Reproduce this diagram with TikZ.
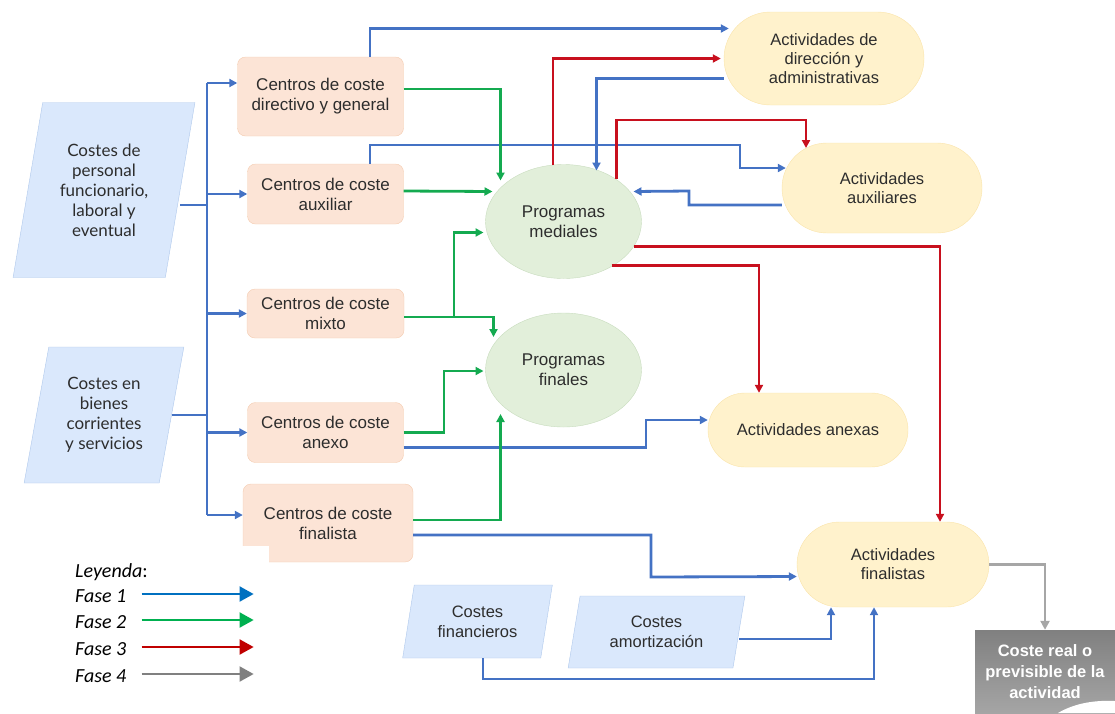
\documentclass[tikz,border=0pt]{standalone}
\usepackage{fontspec}
\setmainfont{Liberation Sans}
\newfontfamily\latofont{Lato}
\newfontfamily\legfont{Carlito}
\usetikzlibrary{arrows.meta, positioning, calc, shapes.geometric, shapes.misc}

\definecolor{txtgray}{RGB}{45,45,45}
\definecolor{peach}{RGB}{252,228,214}
\definecolor{peachline}{RGB}{244,204,176}
\definecolor{lgreen}{RGB}{226,239,218}
\definecolor{greenline}{RGB}{200,220,190}
\definecolor{lyellow}{RGB}{255,242,204}
\definecolor{yelline}{RGB}{250,228,170}
\definecolor{lblue}{RGB}{218,232,252}
\definecolor{blueline}{RGB}{175,200,235}
\definecolor{fblue}{RGB}{68,114,196}
\definecolor{fgreen}{RGB}{20,170,80}
\definecolor{fred}{RGB}{200,16,30}
\definecolor{fgray}{RGB}{166,166,166}
\definecolor{legblue}{RGB}{0,112,192}
\definecolor{leggreen}{RGB}{0,176,80}
\definecolor{legred}{RGB}{192,0,0}
\definecolor{leggray}{RGB}{128,128,128}
\definecolor{boxgraytop}{RGB}{128,128,128}
\definecolor{boxgraybot}{RGB}{165,165,165}

\begin{document}
\begin{tikzpicture}[
    x=1pt, y=-1pt,
    every node/.style={text=txtgray, align=center, inner sep=0pt}, % 统一文字
    centro/.style={draw=peachline, fill=peach, rounded corners=8pt, font=\fontsize{17}{20}\selectfont}, % 成本中心
    prog/.style={ellipse, draw=greenline, fill=lgreen, minimum width=156, minimum height=114, font=\fontsize{17}{20}\selectfont}, % 项目
    activ/.style={rounded rectangle, draw=yelline, fill=lyellow, font=\fontsize{16.5}{19}\selectfont}, % 活动
    coste/.style={trapezium, trapezium stretches=true, trapezium left angle=77, trapezium right angle=103, draw=blueline, fill=lblue}, % 成本(平行四边形)
    fase1/.style={fblue, line width=2.8pt, -{Triangle[length=8pt,width=8pt]}},
    fase2/.style={fgreen, line width=2.8pt, -{Triangle[length=8pt,width=8pt]}},
    fase3/.style={fred, line width=2.8pt, -{Triangle[length=8pt,width=8pt]}},
    fase4/.style={fgray, line width=2.8pt, -{Triangle[length=9pt,width=9pt]}},
    legarrow/.style={line width=2pt, -{Triangle[length=14pt,width=15pt]}}, % 图例箭头
    leg/.style={text=black, font=\legfont\fontsize{20}{24}\selectfont}
]
    \useasboundingbox (0,0) rectangle (1115,713);

    % 1. 成本来源(平行四边形)
    \node[coste, font=\latofont\fontsize{17}{20}\selectfont, minimum width=182, minimum height=175] (cp) at (104,190) {Costes de\\personal\\funcionario,\\laboral y\\eventual};
    \node[coste, font=\latofont\fontsize{17}{20}\selectfont, minimum width=160, minimum height=136] (cb) at (104,415) {Costes en\\bienes\\corrientes\\y servicios};
    \node[coste, font=\fontsize{16.5}{20}\selectfont, minimum width=151, minimum height=73] (cfn) at (477.5,621.5) {Costes\\financieros};
    \node[coste, font=\fontsize{16.5}{20}\selectfont, minimum width=177, minimum height=72] (cam) at (656.5,632) {Costes\\amortización};

    % 2. 成本中心
    \node[centro, minimum width=166, minimum height=79] (cdg) at (320.5,96.5) {Centros de coste\\directivo y general};
    \node[centro, minimum width=156, minimum height=60] (cax) at (325.5,194) {Centros de coste\\auxiliar};
    \node[centro, minimum width=157, minimum height=49] (cmx) at (325.5,313.5) {Centros de coste\\mixto};
    \node[centro, minimum width=156, minimum height=60] (can) at (325.5,432.5) {Centros de coste\\anexo};
    \node[centro, minimum width=170, minimum height=78] (cfi) at (328,523) {Centros de coste\\finalista};

    % 3. 项目(椭圆)
    \node[prog] (pm) at (563.5,221.5) {Programas\\mediales};
    \node[prog] (pf) at (563.5,370) {Programas\\finales};

    % 4. 活动
    \node[activ, minimum width=200, minimum height=93] (adir) at (824,58.5) {Actividades de\\dirección y\\administrativas};
    \node[activ, minimum width=200, minimum height=90] (aaux) at (882,188) {Actividades\\auxiliares};
    \node[activ, minimum width=200, minimum height=74] (aan) at (808,430) {Actividades anexas};
    \node[activ, minimum width=192, minimum height=85] (afi) at (893,564.5) {Actividades\\finalistas};

    % 5. 最终成本
    \node[top color=boxgraytop, bottom color=boxgraybot, minimum width=140, minimum height=83, text=white, font=\bfseries\fontsize{16.5}{21}\selectfont] (crl) at (1045,671.5) {Coste real o\\previsible de la\\actividad};
    \fill[white] (1058,713) .. controls (1075,703) and (1095,700) .. (1115,701) -- (1115,713) -- cycle;

    % 6. Fase 1(蓝色)
    \coordinate (tk) at (207,83);
    \coordinate (tkb) at (207,515);
    \draw[fase1,-] (tk) -- (tkb);
    \draw[fase1,-] (cp.east |- 0,205) -- (tk |- 0,205);
    \draw[fase1,-] (cb.east) -- (tk |- cb.east);
    \draw[fase1] (tk) -- (cdg.west |- tk);
    \draw[fase1] (tk |- cax.west) -- (cax.west);
    \draw[fase1] (tk |- cmx.west) -- (cmx.west);
    \draw[fase1] (tk |- can.west) -- (can.west);
    \draw[fase1] (tkb) -- (cfi.west |- tkb);
    \draw[fase1] (cdg.north -| 370,0) |- ([xshift=5pt,yshift=30pt]adir.west);
    \draw[fase1] (cax.north -| 370,0) |- (740,145) |- ([xshift=4pt,yshift=20pt]aaux.west);
    \draw[fase1] ([yshift=-20pt]adir.west) -| ($(pm)+(33,-51)$);
    \draw[fase1] ([yshift=-17pt]aaux.west) -| (689,191) -- ($(pm)+(70,-30)$);
    \draw[fase1] ([yshift=-15pt]can.east) -| (646,420) -- ([yshift=10pt]aan.west);
    \draw[fase1] ([yshift=-12pt]cfi.east) -| (651,577) -- ([yshift=-12pt]afi.west);
    \draw[fase1] (cfn.south -| 483,0) |- (874,679) -- (afi.south -| 874,0);
    \draw[fase1] (cam.east |- 0,639) -| (afi.south -| 831,0);

    % 7. Fase 2(绿色)
    \coordinate (mxs) at (454,317);
    \draw[fase2] ([yshift=7.5pt]cdg.east) -| ($(pm)+(-63,-41)$);
    \draw[fase2] (cax.east |- 0,191) -- ($(pm)+(-71,-30)$);
    \draw[fase2,-] (cmx.east |- mxs) -- (mxs);
    \draw[fase2] (mxs) |- ($(pm)+(-80,11)$);
    \draw[fase2] (mxs) -| ($(pf)+(-70,-33)$);
    \draw[fase2] (can.east) -| (444,371) -- ($(pf)+(-80,1)$);
    \draw[fase2] ([yshift=3pt]cfi.east) -| ($(pf)+(-63,44)$);

    % 8. Fase 3(红色)
    \draw[fase3] ($(pm)+(-10.5,-56.5)$) |- ([xshift=-3pt]adir.west);
    \draw[fase3] ($(pm)+(53,-43)$) |- (806,120) -- ($(aaux)+(-76,-40)$);
    \draw[fase3] ($(pm)+(70,25)$) -| (afi.north -| 940,0);
    \draw[fase3] ($(pm)+(48,44)$) -| (aan.north -| 759,0);

    % 9. Fase 4(灰色)
    \draw[fase4] (afi.east) -| (crl.north);

    % 10. 图例(白底遮住下方)
    \fill[white] (0,546) rectangle (268.6,713);
    \node[leg, anchor=west] (ley) at (75,572) {\textit{Leyenda}:};
    \foreach \i/\c/\y in {1/legblue/596, 2/leggreen/622, 3/legred/649, 4/leggray/676} {
        \node[leg, anchor=west] (fase\i) at (75,\y) {\textit{Fase \i}};
        \draw[legarrow, \c] ([xshift=15pt,yshift=2pt]fase\i.east) -- ++(112,0);
    }
\end{tikzpicture}
\end{document}
